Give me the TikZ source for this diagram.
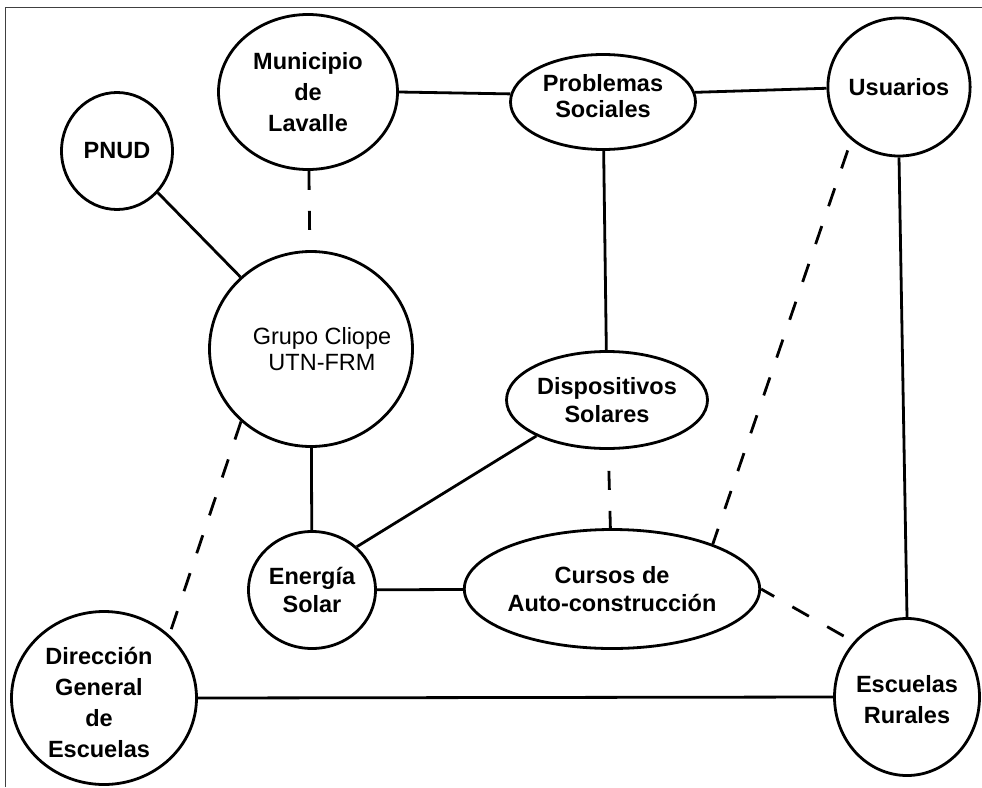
\documentclass[tikz,border=0pt]{standalone}
\usepackage{fontspec}
\setmainfont{Liberation Sans}
\usetikzlibrary{shapes.geometric}
\begin{document}
\begin{tikzpicture}[x=1pt,y=-1pt,
  ent/.style={ellipse,draw=black,line width=2.8pt,inner sep=0pt,align=center,
    font=\bfseries\fontsize{23.5}{28}\selectfont},
  inner/.style={align=center,inner sep=0pt,font=\bfseries\fontsize{23.5}{28}\selectfont},
  link/.style={line width=2.8pt,draw=black},
  dlink/.style={link,dash pattern=on 19pt off 21pt},
  frameline/.style={line width=1pt,draw=black!75}]
\useasboundingbox (0,0) rectangle (982,787);
\draw[frameline] (5,787) -- (5,7) -- (982,7);
% nodes
\node[ent,minimum width=111pt,minimum height=117pt] (pnud) at (117,151) {PNUD};
\node[ent,minimum width=179pt,minimum height=155pt,font=\bfseries\fontsize{23.5}{31}\selectfont] (mun) at (308,92) {Municipio\\de\\Lavalle};
\node[ent,minimum width=185pt,minimum height=95pt,
  label={[inner,font=\bfseries\fontsize{23.5}{26}\selectfont,yshift=6pt]center:Problemas\\Sociales}] (prob) at (603,102) {};
\node[ent,minimum width=125pt,minimum height=138pt] (usu) at (899,87) {Usuarios};
\node[ent,minimum width=203pt,minimum height=195pt,
  label={[inner,font=\fontsize{23.5}{26}\selectfont,xshift=11pt]center:Grupo Cliope\\UTN-FRM}] (grupo) at (311,349) {};
\node[ent,minimum width=201pt,minimum height=97pt] (disp) at (607,400) {Dispositivos\\Solares};
\node[ent,minimum width=127pt,minimum height=117pt] (ener) at (312,590) {Energía\\Solar};
\node[ent,minimum width=277pt,minimum height=119pt] (cursos) at (612,589) {Cursos de\\Auto-construcción};
\node[ent,minimum width=185pt,minimum height=173pt,
  label={[inner,font=\bfseries\fontsize{23.5}{31}\selectfont,xshift=-5pt,yshift=-4pt]center:Dirección\\General\\de\\Escuelas}] (dir) at (104,698) {};
\node[ent,minimum width=145pt,minimum height=157pt,
  label={[inner,font=\bfseries\fontsize{23.5}{31}\selectfont,yshift=-3pt]center:Escuelas\\Rurales}] (esc) at (907,697) {};
% connectors
\draw[link] (mun.east) -- (prob.175);
\draw[link] (prob.6) -- (usu.181);
\draw[link] (prob) -- (disp);
\draw[dlink] (mun) -- (grupo);
\draw[link] (pnud) -- (grupo);
\draw[link] (grupo) -- (ener);
\draw[dlink] (grupo.226) -- (dir.44);
\draw[link] (ener.44) -- (disp.207);
\draw[link] (ener) -- (cursos);
\draw[dlink,dash phase=19pt] (disp) -- (cursos);
\draw[dlink,dash phase=29pt] (usu.228) -- (cursos.24);
\draw[dlink,dash phase=4pt] (cursos.0) -- (esc.134);
\draw[link] (usu.south) -- (esc.north);
\draw[link] (dir.east) -- (esc.west);
\end{tikzpicture}
\end{document}
